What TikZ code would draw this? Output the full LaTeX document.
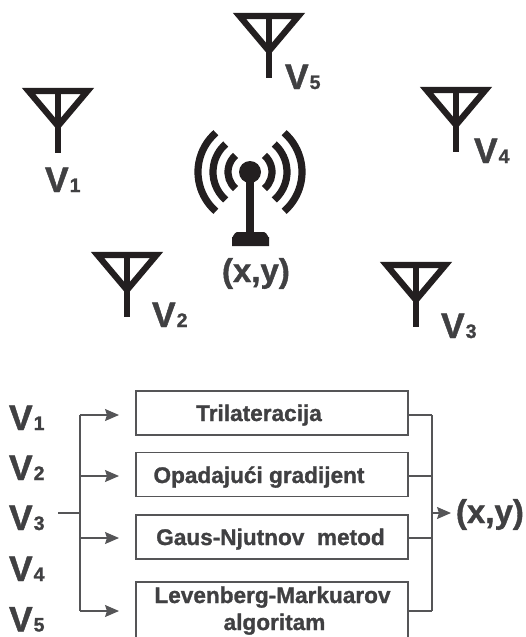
\documentclass[tikz,border=0pt]{standalone}
\usepackage{fontspec}
\setmainfont{Liberation Sans}[BoldFeatures={FakeBold=1.2}]
\usetikzlibrary{arrows.meta}
\definecolor{ink}{HTML}{231F20}
\definecolor{txt}{HTML}{404042}
\definecolor{ln}{HTML}{555557}
\newcommand\VV[1]{{\fontsize{35.5}{36}\selectfont V}\kern1pt{\fontsize{19.5}{20}\selectfont #1}}
\newcommand\XY{{\fontsize{33}{34}\selectfont (x,y)}}
\newcommand\antenna[2]{%
  \draw[antline] (#1-29.5,#2+3) -- (#1+29.5,#2+3) -- (#1,#2+38) -- cycle;
  \draw[antline] (#1,#2+3) -- (#1,#2+65);
}
\tikzset{
  antline/.style={draw=ink,line width=6.2pt,miter limit=10},
  wave/.style={draw=ink,line width=7.2pt,line cap=butt},
  lab/.style={inner sep=0pt,outer sep=0pt,anchor=base west,text=txt,font=\bfseries},
  algbox/.style={draw=ln,line width=1.2pt,minimum width=272pt,inner sep=0pt,outer sep=0pt,anchor=north west},
  algtext/.style={inner sep=0pt,outer sep=0pt,anchor=base,text=txt,font=\bfseries\fontsize{22.6}{26}\selectfont},
  wire/.style={draw=ln,line width=1.2pt},
  arr/.style={wire,-{Stealth[length=14pt,width=12pt,inset=2pt]}},
}
\begin{document}
\begin{tikzpicture}[x=1pt,y=-1pt]
\useasboundingbox (0,0) rectangle (525,637);
\clip (0,0) rectangle (525,637);
% antennas
\antenna{58}{88}
\antenna{269}{13}
\antenna{456}{87}
\antenna{127}{252}
\antenna{416}{262}
% labels of antennas
\node[lab] (l1) at (45,192) {\VV{1}};
\node[lab] (l5) at (285,89) {\VV{5}};
\node[lab] (l4) at (474,163) {\VV{4}};
\node[lab] (l2) at (152,327) {\VV{2}};
\node[lab] (l3) at (441,338) {\VV{3}};
% tower
\foreach \r in {22,37,52}{
  \draw[wave] (250,172) ++(131:\r) arc[start angle=131,end angle=229,radius=\r];
  \draw[wave] (250,172) ++(49:\r) arc[start angle=49,end angle=-49,radius=\r];
}
\fill[ink] (250,172) circle[radius=11];
\fill[ink] (246,172) rectangle (254,235);
\fill[ink] (232,246) -- (232,237) to[out=-90,in=180] (237,232) -- (264,232) to[out=0,in=-90] (269,237) -- (269,246) -- cycle;
\node[lab] (t) at (222,282) {\XY};
% list
\node[lab] (v1) at (9,430) {\VV{1}};
\node[lab] (v2) at (9,480) {\VV{2}};
\node[lab] (v3) at (9,530) {\VV{3}};
\node[lab] (v4) at (9,581) {\VV{4}};
\node[lab] (v5) at (9,631.5) {\VV{5}};
% boxes
\node[algbox,minimum height=44pt] (b1) at (136,391) {};
\node[algbox,minimum height=44pt] (b2) at (136,452.5) {};
\node[algbox,minimum height=44pt] (b3) at (136,515) {};
\node[algbox,minimum height=58pt] (b4) at (136,582) {};
\node[algtext] (t1) at (259,421) {Trilateracija};
\node[algtext] (t2) at (259,483) {Opadajući gradijent};
\node[algtext] (t3) at (270.5,545) {Gaus-Njutnov\ \ metod};
\node[algtext] (t4) at (272.5,603) {Levenberg-Markuarov};
\node[algtext] (t5) at (274.5,630) {algoritam};
% left wiring
\coordinate (s) at (58,513);
\coordinate (j) at (80,513);
\coordinate (j1) at (80,415);
\coordinate (j2) at (80,476);
\coordinate (j3) at (80,538);
\coordinate (j4) at (80,611);
\coordinate (e1) at (119,415);
\coordinate (e2) at (119,476);
\coordinate (e3) at (119,538);
\coordinate (e4) at (119,611);
\draw[wire] (s) -- (j);
\draw[wire] (j1) -- (j4);
\draw[arr] (j1) -- (e1);
\draw[arr] (j2) -- (e2);
\draw[arr] (j3) -- (e3);
\draw[arr] (j4) -- (e4);
% right wiring
\coordinate (r1) at (432,415);
\coordinate (r2) at (432,476);
\coordinate (r3) at (432,538);
\coordinate (r4) at (432,611);
\coordinate (r) at (432,513);
\node[lab] (out) at (456,523) {\XY};
\draw[wire] ([yshift=-2pt]b1.east) -- (r1);
\draw[wire] ([yshift=-1.5pt]b2.east) -- (r2);
\draw[wire] ([yshift=-1pt]b3.east) -- (r3);
\draw[wire] (b4.east) -- (r4);
\draw[wire] (r1) -- (r4);
\draw[arr] (r) -- (451,513);
\end{tikzpicture}
\end{document}
